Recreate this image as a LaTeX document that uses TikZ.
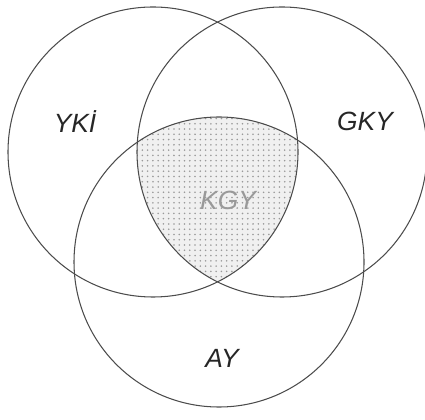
\documentclass[tikz,border=0pt]{standalone}
\usepackage{fontspec}
\setmainfont{Liberation Sans}
\usetikzlibrary{patterns}

\begin{document}
\begin{tikzpicture}[scale=1]
\tikzset{ring/.style={draw=black!70, line width=0.6pt},
  setlabel/.style={font=\fontsize{15}{18}\selectfont\itshape, text=black!85}}
\useasboundingbox (0,0) rectangle (8.5,8.38);
\coordinate (L) at (3.06,5.34);
\coordinate (R) at (5.64,5.34);
\coordinate (B) at (4.38,3.14);
% shaded common part
\begin{scope}
\clip (L) circle (2.9);
\clip (R) circle (2.9);
\fill[black!6] (B) circle (2.9);
\fill[pattern=dots, pattern color=black!40] (B) circle (2.9);
\end{scope}
\draw[ring] (L) circle (2.9);
\draw[ring] (R) circle (2.9);
\draw[ring] (B) circle (2.9);
\node[setlabel] (yki) at (1.5,5.95) {YKİ};
\node[setlabel] (gky) at (7.3,5.95) {GKY};
\node[setlabel, text=black!40] (kgy) at (4.56,4.38) {KGY};
\node[setlabel] (ay) at (4.44,1.22) {AY};
\end{tikzpicture}
\end{document}
